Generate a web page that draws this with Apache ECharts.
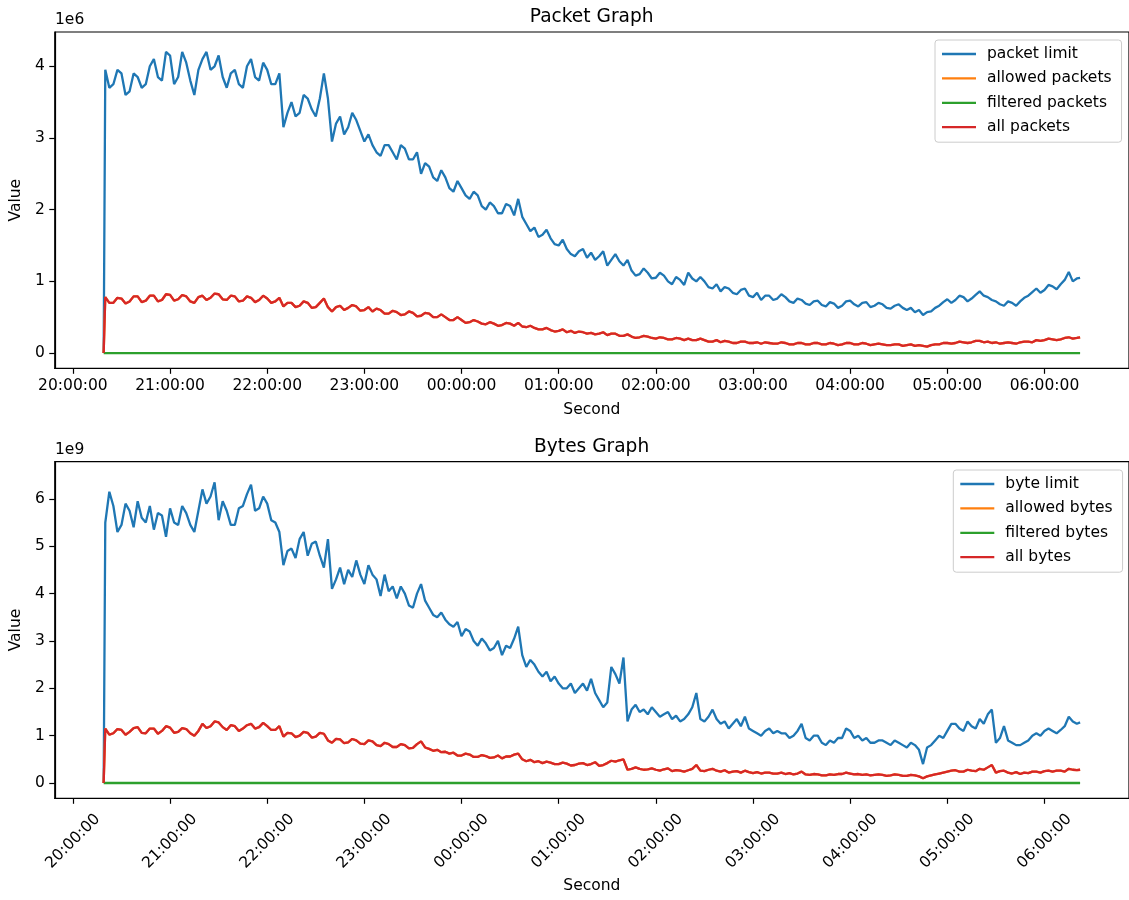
<!DOCTYPE html>
<html>
<head>
<meta charset="utf-8">
<script src="https://cdn.jsdelivr.net/npm/echarts@6/dist/echarts.min.js"></script>
<style>
  html, body { margin: 0; padding: 0; background: #fff; }
  #chart { width: 1129px; height: 900px; }
</style>
</head>
<body>
<div id="chart"></div>
<script>
// Sample times, in minutes after 20:00:00: first sample at 20:19, then every 2.5 min, last at 06:22
const minutes = [19];
for (let m = 20; m <= 620; m += 2.5) minutes.push(m);
minutes.push(622);

// Hourly tick positions (minutes after 20:00:00)
const hourTicks = [0, 60, 120, 180, 240, 300, 360, 420, 480, 540, 600];

// Packet counts, in units of 1e6 (one row per hour, 20:20 onwards)
const packetLimit = [0,
  3.95,3.7,3.75,3.95,3.9,3.6,3.65,3.9,3.85,3.7,3.75,4.0, 4.1,3.85,3.8,4.2,4.15,3.75,3.85,4.2,4.05,3.8,3.6,3.95,
  4.1,4.2,3.95,4.0,4.15,3.85,3.7,3.9,3.95,3.75,3.7,4.0, 4.1,3.85,3.8,4.05,3.95,3.75,3.75,3.9,3.15,3.35,3.5,3.3,
  3.35,3.6,3.55,3.4,3.3,3.55,3.9,3.55,2.95,3.2,3.3,3.05, 3.15,3.35,3.25,3.1,2.95,3.05,2.9,2.8,2.75,2.9,2.9,2.8,
  2.7,2.9,2.85,2.7,2.7,2.8,2.5,2.65,2.6,2.45,2.4,2.55, 2.45,2.3,2.25,2.4,2.3,2.2,2.15,2.25,2.2,2.05,2.0,2.1,
  2.05,1.95,1.95,2.08,2.05,1.92,2.15,1.9,1.8,1.7,1.75,1.62, 1.65,1.72,1.6,1.52,1.5,1.58,1.45,1.38,1.35,1.42,1.45,1.33,
  1.4,1.3,1.35,1.42,1.22,1.3,1.38,1.28,1.22,1.3,1.15,1.08, 1.1,1.18,1.12,1.04,1.05,1.12,1.08,1.0,0.96,1.06,1.02,0.95,
  1.12,1.04,1.0,1.06,1.0,0.92,0.9,0.96,0.86,0.92,0.9,0.84, 0.82,0.88,0.9,0.8,0.78,0.84,0.74,0.8,0.8,0.74,0.76,0.82,
  0.78,0.72,0.7,0.76,0.74,0.69,0.67,0.72,0.73,0.67,0.65,0.71, 0.69,0.63,0.66,0.72,0.73,0.68,0.65,0.7,0.71,0.64,0.66,0.7,
  0.68,0.63,0.62,0.66,0.68,0.63,0.6,0.63,0.57,0.6,0.53,0.57, 0.58,0.63,0.66,0.71,0.75,0.7,0.74,0.8,0.78,0.72,0.76,0.81,
  0.86,0.8,0.78,0.74,0.72,0.68,0.66,0.72,0.7,0.66,0.72,0.77, 0.8,0.85,0.9,0.84,0.88,0.95,0.93,0.89,0.96,1.02,1.13,1.0,
  1.04,1.05];

const allPackets = [0,
  0.78,0.7,0.7,0.77,0.76,0.69,0.72,0.79,0.79,0.71,0.73,0.8, 0.8,0.72,0.74,0.82,0.81,0.73,0.75,0.81,0.79,0.72,0.7,0.78,
  0.8,0.74,0.77,0.83,0.82,0.75,0.74,0.8,0.79,0.72,0.73,0.79, 0.77,0.71,0.74,0.8,0.76,0.7,0.72,0.77,0.65,0.7,0.7,0.64,
  0.66,0.72,0.7,0.63,0.64,0.7,0.76,0.64,0.58,0.64,0.66,0.6, 0.63,0.67,0.65,0.59,0.6,0.64,0.58,0.62,0.6,0.55,0.55,0.59,
  0.57,0.53,0.54,0.58,0.56,0.51,0.52,0.56,0.55,0.5,0.5,0.54, 0.5,0.46,0.46,0.5,0.46,0.42,0.43,0.46,0.44,0.41,0.4,0.43,
  0.41,0.38,0.39,0.42,0.41,0.38,0.42,0.37,0.36,0.38,0.35,0.33, 0.33,0.35,0.32,0.3,0.31,0.33,0.29,0.31,0.28,0.3,0.29,0.27,
  0.28,0.26,0.27,0.29,0.25,0.27,0.27,0.24,0.24,0.26,0.23,0.21, 0.22,0.24,0.23,0.21,0.2,0.22,0.21,0.19,0.19,0.21,0.2,0.18,
  0.2,0.18,0.18,0.2,0.18,0.16,0.16,0.18,0.15,0.17,0.16,0.14, 0.14,0.16,0.16,0.14,0.14,0.15,0.13,0.15,0.14,0.13,0.13,0.15,
  0.14,0.12,0.12,0.14,0.14,0.12,0.12,0.14,0.14,0.12,0.12,0.14, 0.13,0.11,0.12,0.14,0.14,0.12,0.12,0.14,0.13,0.11,0.12,0.13,
  0.12,0.11,0.11,0.12,0.12,0.1,0.11,0.12,0.1,0.11,0.1,0.09, 0.11,0.12,0.12,0.14,0.14,0.13,0.14,0.16,0.15,0.14,0.15,0.17,
  0.17,0.15,0.16,0.14,0.15,0.13,0.14,0.15,0.14,0.13,0.15,0.16, 0.16,0.15,0.18,0.17,0.18,0.2,0.19,0.18,0.19,0.21,0.22,0.2,
  0.21,0.22];
const allowedPackets = allPackets;
const filteredTimes = [19, 622];
const filteredPackets = [0, 0];

// Byte counts, in units of 1e9
const byteLimit = [0,
  5.5,6.15,5.85,5.3,5.45,5.9,5.75,5.4,5.95,5.6,5.5,5.85, 5.35,5.7,5.65,5.2,5.8,5.5,5.45,5.85,5.7,5.45,5.3,5.75,
  6.2,5.9,6.05,6.35,5.55,5.95,5.75,5.45,5.45,5.8,5.85,6.1, 6.3,5.75,5.8,6.05,5.9,5.55,5.5,5.3,4.6,4.9,4.95,4.75,
  5.15,5.3,4.8,5.05,5.1,4.8,4.55,5.15,4.1,4.3,4.55,4.2, 4.5,4.35,4.7,4.4,4.2,4.6,4.4,4.3,3.95,4.4,4.05,4.15,
  3.9,4.15,4.0,3.75,3.7,4.0,4.2,3.85,3.7,3.55,3.5,3.6, 3.45,3.35,3.3,3.4,3.1,3.25,3.2,3.0,2.9,3.05,2.95,2.8,
  2.85,3.0,2.7,2.9,2.85,3.05,3.3,2.7,2.45,2.6,2.5,2.35, 2.25,2.35,2.15,2.25,2.1,2.0,2.0,2.1,1.9,2.0,2.1,1.95,
  2.2,1.9,1.75,1.6,1.7,2.45,2.3,2.1,2.65,1.3,1.55,1.65, 1.5,1.55,1.45,1.6,1.5,1.4,1.45,1.5,1.35,1.42,1.3,1.35,
  1.45,1.6,1.9,1.35,1.3,1.4,1.55,1.35,1.25,1.3,1.15,1.25, 1.35,1.2,1.4,1.15,1.1,1.05,1.0,1.1,1.15,1.05,1.1,1.05,
  1.05,0.95,1.0,1.1,1.25,0.95,0.9,1.0,1.0,0.85,0.8,0.9, 0.85,0.95,0.95,1.15,1.1,0.95,1.0,0.9,0.95,0.85,0.85,0.9,
  0.9,0.85,0.8,0.9,0.85,0.8,0.75,0.85,0.8,0.7,0.4,0.75, 0.8,0.9,1.0,0.95,1.1,1.25,1.25,1.15,1.1,1.3,1.2,1.15,
  1.35,1.25,1.45,1.55,0.85,0.95,1.2,0.9,0.85,0.8,0.8,0.85, 0.9,1.0,1.05,1.0,1.1,1.15,1.1,1.05,1.12,1.2,1.4,1.3,
  1.25,1.28];

const allBytes = [0,
  1.15,1.02,1.05,1.14,1.12,1.02,1.08,1.16,1.18,1.06,1.05,1.15, 1.15,1.04,1.1,1.2,1.17,1.06,1.08,1.16,1.14,1.05,1.0,1.1,
  1.25,1.16,1.2,1.3,1.28,1.18,1.12,1.22,1.2,1.1,1.15,1.22, 1.25,1.15,1.18,1.27,1.2,1.12,1.12,1.2,0.98,1.06,1.05,0.97,
  1.0,1.08,1.06,0.96,0.98,1.06,1.04,0.9,0.85,0.93,0.92,0.84, 0.86,0.93,0.9,0.83,0.82,0.9,0.88,0.8,0.78,0.85,0.82,0.76,
  0.76,0.82,0.8,0.73,0.74,0.82,0.88,0.75,0.72,0.68,0.7,0.65, 0.66,0.62,0.64,0.58,0.58,0.62,0.6,0.55,0.55,0.59,0.57,0.53,
  0.54,0.58,0.52,0.56,0.56,0.6,0.62,0.5,0.46,0.49,0.44,0.46, 0.42,0.45,0.43,0.4,0.4,0.43,0.41,0.37,0.38,0.41,0.42,0.38,
  0.4,0.44,0.36,0.38,0.42,0.47,0.45,0.48,0.5,0.28,0.3,0.33, 0.3,0.28,0.29,0.31,0.28,0.26,0.29,0.31,0.25,0.27,0.26,0.24,
  0.27,0.3,0.38,0.26,0.25,0.28,0.3,0.26,0.24,0.27,0.22,0.24, 0.25,0.22,0.26,0.23,0.21,0.23,0.2,0.22,0.22,0.2,0.2,0.22,
  0.19,0.21,0.18,0.2,0.24,0.18,0.17,0.19,0.18,0.16,0.16,0.18, 0.17,0.19,0.19,0.22,0.2,0.18,0.19,0.17,0.18,0.16,0.17,0.18,
  0.17,0.15,0.16,0.18,0.17,0.15,0.15,0.17,0.16,0.14,0.1,0.14, 0.16,0.18,0.2,0.22,0.24,0.26,0.27,0.24,0.24,0.28,0.26,0.25,
  0.3,0.28,0.33,0.38,0.22,0.25,0.26,0.22,0.2,0.23,0.19,0.22, 0.21,0.24,0.24,0.22,0.25,0.26,0.24,0.26,0.26,0.24,0.3,0.28,
  0.27,0.28];
const allowedBytes = allBytes;
const filteredBytes = [0, 0];

const yTicksPackets = [0, 1, 2, 3, 4];
const yTicksBytes = [0, 1, 2, 3, 4, 5, 6];

const FONT = 'DejaVu Sans';
const COLORS = { blue: '#1f77b4', orange: '#ff7f0e', green: '#2ca02c', red: '#d62728' };

function pairs(times, values) {
  return times.map((t, i) => [t, values[i]]);
}
function hourLabel(v) {
  const h = (20 + Math.round(v / 60)) % 24;
  return (h < 10 ? '0' : '') + h + ':00:00';
}

const gridLeft = 54.3, gridWidth = 1074.7;
const grids = [
  { left: gridLeft, top: 32, width: gridWidth, height: 336.3 },
  { left: gridLeft, top: 461.7, width: gridWidth, height: 336.6 }
];

function xAxis(idx, rotated) {
  return {
    type: 'value', gridIndex: idx, min: -11.2, max: 652.2,
    name: 'Second', nameLocation: 'middle', nameGap: rotated ? 80 : 34,
    nameTextStyle: { fontFamily: FONT, fontSize: 15.5, color: '#000' },
    axisLine: { show: true, onZero: false, lineStyle: { color: '#000', width: 1.2 } },
    axisTick: { show: true, length: 5.5, customValues: hourTicks, lineStyle: { color: '#000', width: 1.2 } },
    axisLabel: rotated ? {
      customValues: hourTicks, formatter: hourLabel, rotate: 45,
      align: 'center', verticalAlign: 'middle', margin: 43,
      fontFamily: FONT, fontSize: 15.5, color: '#000'
    } : {
      customValues: hourTicks, formatter: hourLabel, margin: 10,
      fontFamily: FONT, fontSize: 15.5, color: '#000'
    },
    splitLine: { show: false }
  };
}
function yAxis(idx, min, max, ticks) {
  return {
    type: 'value', gridIndex: idx, min: min, max: max,
    name: 'Value', nameLocation: 'middle', nameGap: 25, nameRotate: 90,
    nameTextStyle: { fontFamily: FONT, fontSize: 15.5, color: '#000' },
    axisLine: { show: true, onZero: false, lineStyle: { color: '#000', width: 1.2 } },
    axisTick: { show: true, length: 5.5, customValues: ticks, lineStyle: { color: '#000', width: 1.2 } },
    axisLabel: { customValues: ticks, formatter: v => String(Math.round(v)), margin: 10,
      fontFamily: FONT, fontSize: 15.5, color: '#000' },
    splitLine: { show: false }
  };
}
function lineSeries(name, color, idx, data) {
  return {
    name: name, type: 'line', xAxisIndex: idx, yAxisIndex: idx,
    data: data, showSymbol: false, symbol: 'none', color: color,
    lineStyle: { color: color, width: 2.3 }, animation: false, z: 2
  };
}
function legend(names, left, top) {
  return {
    data: names, orient: 'vertical', left: left, top: top,
    icon: 'rect', itemWidth: 34, itemHeight: 2.3, itemGap: 8.4,
    padding: [6, 10, 7, 7],
    backgroundColor: 'rgba(255,255,255,0.8)', borderColor: '#cccccc', borderWidth: 1, borderRadius: 3,
    textStyle: { fontFamily: FONT, fontSize: 15.5, color: '#000', lineHeight: 15.7, padding: [0, 0, 0, 6] }
  };
}

const chart = echarts.init(document.getElementById('chart'), null, { renderer: 'canvas' });
chart.setOption({
  animation: false,
  backgroundColor: '#fff',
  title: [
    { text: 'Packet Graph', left: gridLeft + gridWidth / 2, top: 8, textAlign: 'center', padding: 0,
      textStyle: { fontFamily: FONT, fontSize: 18.6, fontWeight: 'normal', color: '#000' } },
    { text: 'Bytes Graph', left: gridLeft + gridWidth / 2, top: 437.7, textAlign: 'center', padding: 0,
      textStyle: { fontFamily: FONT, fontSize: 18.6, fontWeight: 'normal', color: '#000' } }
  ],
  graphic: [
    { type: 'text', left: 55, top: 12, style: { text: '1e6', font: '15.5px "DejaVu Sans"', fill: '#000' } },
    { type: 'text', left: 55, top: 441.7, style: { text: '1e9', font: '15.5px "DejaVu Sans"', fill: '#000' } }
  ],
  grid: grids.map(g => Object.assign({ show: true, borderColor: '#000', borderWidth: 1.2, backgroundColor: 'transparent' }, g)),
  xAxis: [xAxis(0, false), xAxis(1, true)],
  yAxis: [yAxis(0, -0.213, 4.478, yTicksPackets), yAxis(1, -0.323, 6.785, yTicksBytes)],
  legend: [
    legend(['packet limit', 'allowed packets', 'filtered packets', 'all packets'], 935, 40),
    legend(['byte limit', 'allowed bytes', 'filtered bytes', 'all bytes'], 953.3, 470)
  ],
  series: [
    lineSeries('packet limit', COLORS.blue, 0, pairs(minutes, packetLimit)),
    lineSeries('allowed packets', COLORS.orange, 0, pairs(minutes, allowedPackets)),
    lineSeries('filtered packets', COLORS.green, 0, pairs(filteredTimes, filteredPackets)),
    lineSeries('all packets', COLORS.red, 0, pairs(minutes, allPackets)),
    lineSeries('byte limit', COLORS.blue, 1, pairs(minutes, byteLimit)),
    lineSeries('allowed bytes', COLORS.orange, 1, pairs(minutes, allowedBytes)),
    lineSeries('filtered bytes', COLORS.green, 1, pairs(filteredTimes, filteredBytes)),
    lineSeries('all bytes', COLORS.red, 1, pairs(minutes, allBytes))
  ]
});
</script>
</body>
</html>
